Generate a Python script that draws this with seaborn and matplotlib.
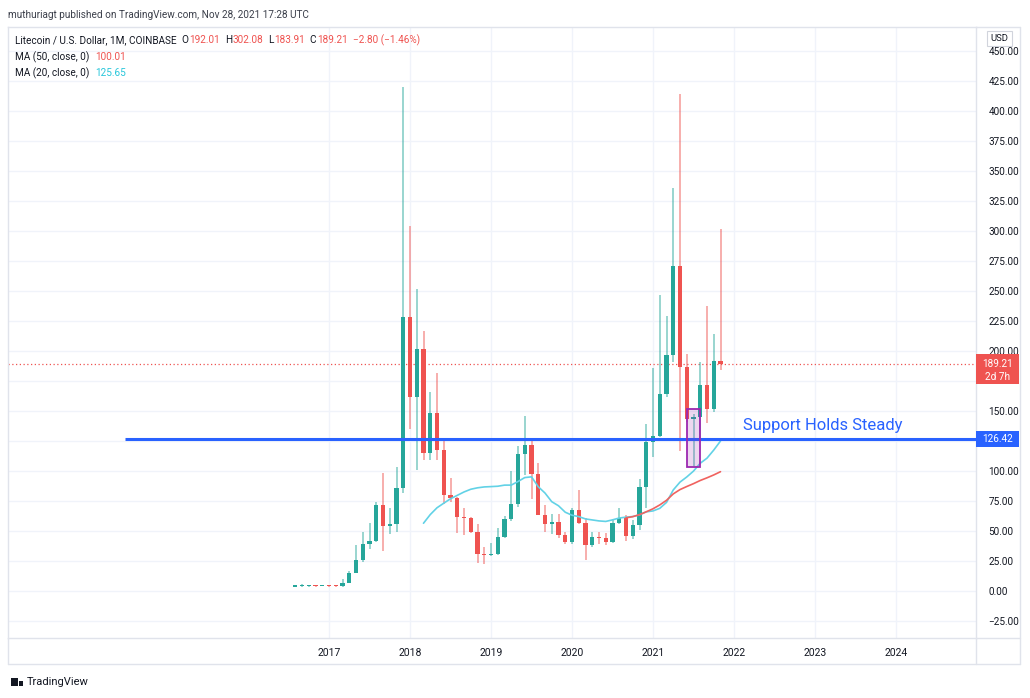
import numpy as np
import pandas as pd
import matplotlib
matplotlib.use("Agg")
import matplotlib.pyplot as plt
import seaborn as sns
from matplotlib.patches import Rectangle
from matplotlib.lines import Line2D

# ---------------- data (monthly LTC/USD, Aug 2016 - Nov 2021) ----------------
months = pd.date_range("2016-08-01", "2021-11-01", freq="MS")
opens = [3.7, 3.8, 3.85, 3.95, 3.9,
         4.35, 4.0, 3.8, 6.9, 15.3, 25.5, 39.0, 41.5, 72.0, 54.0, 56.0, 85.5,
         228, 161.5, 201.5, 115, 148, 117.5, 80, 77.5, 61.5, 60.5, 49, 31,
         30, 31, 45, 60, 72.5, 114, 121.5, 97.5, 63.5, 56, 57.5, 47,
         40.5, 67.5, 57, 38.5, 45, 44, 40.5, 57, 61, 45.5, 55, 87,
         124, 129, 164.5, 196.5, 271, 187, 143, 145, 171.5, 152, 192.01]
highs = [4.1, 5.5, 4.1, 4.2, 4.7,
         5.0, 4.2, 10.0, 16.5, 38, 49.5, 57, 74, 98, 69, 103, 420,
         304, 252, 217, 166, 182, 127, 94, 78, 69, 61.5, 56, 37,
         40, 52.5, 62.5, 100, 121, 146, 126.5, 107, 72, 64, 64.5, 49,
         69.5, 84, 61, 49.5, 49, 48, 60, 69, 63, 59, 93, 139,
         186, 247, 229, 335.5, 414, 197.5, 147.5, 191, 237.5, 214.5, 302.08]
lows = [3.5, 3.7, 3.7, 3.7, 3.8,
        3.7, 3.6, 3.6, 6.8, 15, 24, 35, 41, 33, 47.5, 49, 82,
        135, 101, 109, 109, 109, 72.5, 74, 48.5, 46.5, 48, 23.5, 22.5,
        29, 30, 44, 58, 70, 96.5, 77, 63, 49.5, 47.5, 44, 39,
        39.5, 56, 25.8, 37, 39.5, 38.5, 40, 56, 42, 43, 51, 69,
        112, 128, 162, 191, 117, 141, 104, 127.5, 140, 149, 183.91]
closes = [3.8, 3.85, 3.95, 3.9, 4.35,
          4.0, 3.8, 6.9, 15.3, 25.5, 39.0, 41.5, 72.0, 54.0, 56.0, 85.5, 228,
          161.5, 201.5, 115, 148, 117.5, 80, 77.5, 61.5, 60.5, 49, 31, 30,
          31, 45, 60, 72.5, 114, 121.5, 97.5, 63.5, 56, 57.5, 47, 40.5,
          67.5, 57, 38.5, 45, 44, 40.5, 57, 61, 45.5, 55, 87, 124,
          129, 164.5, 196.5, 271, 187, 143, 145, 171.5, 152, 192.01, 189.21]

year_ticks = [2017, 2018, 2019, 2020, 2021, 2022, 2023, 2024]
price_ticks = list(range(-25, 451, 25))
hidden_price_labels = [125, 175]          # covered by the price tags
support_level = 126.42
last_price = 189.21
ma50_last, ma20_last = 100.01, 125.65     # legend values as printed
support_start = pd.Timestamp("2014-06-24")
box_start, box_end = pd.Timestamp("2021-06-01"), pd.Timestamp("2021-08-01")
box_low, box_high = 103.6, 152.0
note_date, note_price = pd.Timestamp("2022-02-10"), 138.3

# ---------------- derived ----------------
def midx(ts):
    return (ts.year - 2017) * 12 + (ts.month - 1) + (ts.day - 1) / 30.0

df = pd.DataFrame({"date": months, "open": opens, "high": highs,
                   "low": lows, "close": closes})
df["x"] = [midx(d) for d in df["date"]]
df["ma20"] = df["close"].rolling(20).mean()
df["ma50"] = df["close"].rolling(50).mean()

GREEN, RED = "#26a69a", "#ef5350"
DARK = "#131722"
W, H = 1030, 698
FS = 7.2

sns.set_theme(style="white")
plt.rcParams["font.family"] = ["Roboto", "DejaVu Sans"]

fig = plt.figure(figsize=(W / 100, H / 100), dpi=100)
fx = lambda px: px / W
fy = lambda py: 1 - py / H

ax = fig.add_axes([fx(8), fy(638), fx(976) - fx(8), fy(27) - fy(638)])
ax.set_xlim((8 - 329) / 6.75, (976 - 329) / 6.75)
ax.set_ylim((591 - 638) / 1.2, (591 - 27) / 1.2)

# grid
ax.set_yticks(price_ticks)
ax.set_yticklabels(["" if v in hidden_price_labels else f"{v:.2f}".replace("-", "\u2212")
                    for v in price_ticks])
ax.set_xticks([(y - 2017) * 12 for y in year_ticks])
ax.set_xticklabels([str(y) for y in year_ticks])
ax.grid(True, color="#f0f3fa", lw=1)
ax.yaxis.tick_right()
ax.tick_params(axis="y", length=0, pad=9, labelsize=FS, labelcolor=DARK)
ax.tick_params(axis="x", length=0, pad=7, labelsize=FS + 0.3, labelcolor=DARK)
for s in ax.spines.values():
    s.set_color("#e0e3eb")
    s.set_linewidth(1)

# red dotted last price line
ax.axhline(last_price, color=RED, lw=0.9, ls=(0, (1, 2)), zorder=1)

# candles
for _, r in df.iterrows():
    up = r["close"] >= r["open"]
    col = GREEN if up else RED
    ax.vlines(r["x"], r["low"], r["high"], colors=col, lw=1.2, alpha=0.55, zorder=3)
    lo = min(r["open"], r["close"])
    h = max(abs(r["close"] - r["open"]), 1.2)
    ax.bar(r["x"], h, bottom=lo, width=0.62, color=col, lw=0, zorder=4)

# moving averages
sns.lineplot(data=df, x="x", y="ma20", ax=ax, color="#62d2e6", lw=1.2, zorder=5)
sns.lineplot(data=df, x="x", y="ma50", ax=ax, color="#f0625f", lw=1.2, zorder=5)
ax.set_xlabel("")
ax.set_ylabel("")

# support line
ax.plot([midx(support_start), ax.get_xlim()[1]], [support_level] * 2,
        color="#2962ff", lw=2.2, zorder=6, solid_capstyle="butt")

# purple highlight box
bx0, bx1 = midx(box_start), midx(box_end)
ax.add_patch(Rectangle((bx0, box_low), bx1 - bx0, box_high - box_low,
                       facecolor=(0.61, 0.15, 0.69, 0.18), edgecolor="#9c27b0",
                       lw=1.3, zorder=7))

ax.text(midx(note_date), note_price, "Support Holds Steady", color="#2962ff",
        fontsize=12, va="center", ha="left", zorder=8)

# ---------------- frame lines outside plot ----------------
def fline(x0, y0, x1, y1, color="#e0e3eb", lw=1):
    fig.add_artist(Line2D([fx(x0), fx(x1)], [fy(y0), fy(y1)], color=color, lw=lw))

fline(976, 27, 1020, 27)
fline(1020, 27, 1020, 664)
fline(8, 664, 1020, 664)
fline(8, 638, 8, 664)
fline(976, 638, 976, 664)
fline(976, 638, 1020, 638)

# USD box
fig.patches.append(Rectangle((fx(987), fy(46)), fx(1012) - fx(987), fy(31) - fy(46),
                             transform=fig.transFigure, facecolor="white",
                             edgecolor="#d1d4dc", lw=0.8, zorder=10))
fig.text(fx(999.5), fy(38.5), "USD", fontsize=6.8, color=DARK, ha="center",
         va="center", zorder=11)

# price tags
fig.patches.append(Rectangle((fx(976), fy(384)), fx(1019) - fx(976), fy(354) - fy(384),
                             transform=fig.transFigure, facecolor=RED,
                             edgecolor="none", zorder=10))
fig.text(fx(998), fy(364), f"{last_price:.2f}", fontsize=FS, color="white",
         ha="center", va="center", zorder=11)
fig.text(fx(998), fy(377), "2d 7h", fontsize=FS, color="white",
         ha="center", va="center", zorder=11)
fig.patches.append(Rectangle((fx(976), fy(447)), fx(1019) - fx(976), fy(431) - fy(447),
                             transform=fig.transFigure, facecolor="#2962ff",
                             edgecolor="none", zorder=10))
fig.text(fx(998), fy(439), f"{support_level:.2f}", fontsize=FS, color="white",
         ha="center", va="center", zorder=11)

# ---------------- texts ----------------
renderer = fig.canvas.get_renderer()

def seq(x_px, y_px, pieces, size=FS):
    x = x_px
    for txt, col, gap in pieces:
        t = fig.text(fx(x), fy(y_px), txt, fontsize=size, color=col,
                     ha="left", va="center")
        x += t.get_window_extent(renderer).width + gap

fig.text(fx(8), fy(15), "muthuriagt published on TradingView.com, Nov 28, 2021 17:28 UTC",
         fontsize=FS, color="#3b3f4a", ha="left", va="center")

seq(15, 40, [("Litecoin / U.S. Dollar, 1M, COINBASE", DARK, 5),
             ("O", DARK, 0.5), ("192.01", RED, 5),
             ("H", DARK, 0.5), ("302.08", RED, 5),
             ("L", DARK, 0.5), ("183.91", RED, 5),
             ("C", DARK, 0.5), ("189.21", RED, 5),
             ("\u22122.80 (\u22121.46%)", RED, 0)])
seq(15, 57, [("MA (50, close, 0)", DARK, 6), (f"{ma50_last:.2f}", RED, 0)])
seq(15, 73, [("MA (20, close, 0)", DARK, 6), (f"{ma20_last:.2f}", "#26c6da", 0)])

fig.text(fx(27), fy(682), "TradingView", fontsize=8, color=DARK, ha="left", va="center")
fig.patches.append(Rectangle((fx(11), fy(686)), fx(18) - fx(11), fy(678) - fy(686),
                             transform=fig.transFigure, facecolor=DARK, edgecolor="none"))
fig.patches.append(Rectangle((fx(19), fy(686)), fx(23) - fx(19), fy(681) - fy(686),
                             transform=fig.transFigure, facecolor=DARK, edgecolor="none"))

fig.savefig("out.png", dpi=100)
